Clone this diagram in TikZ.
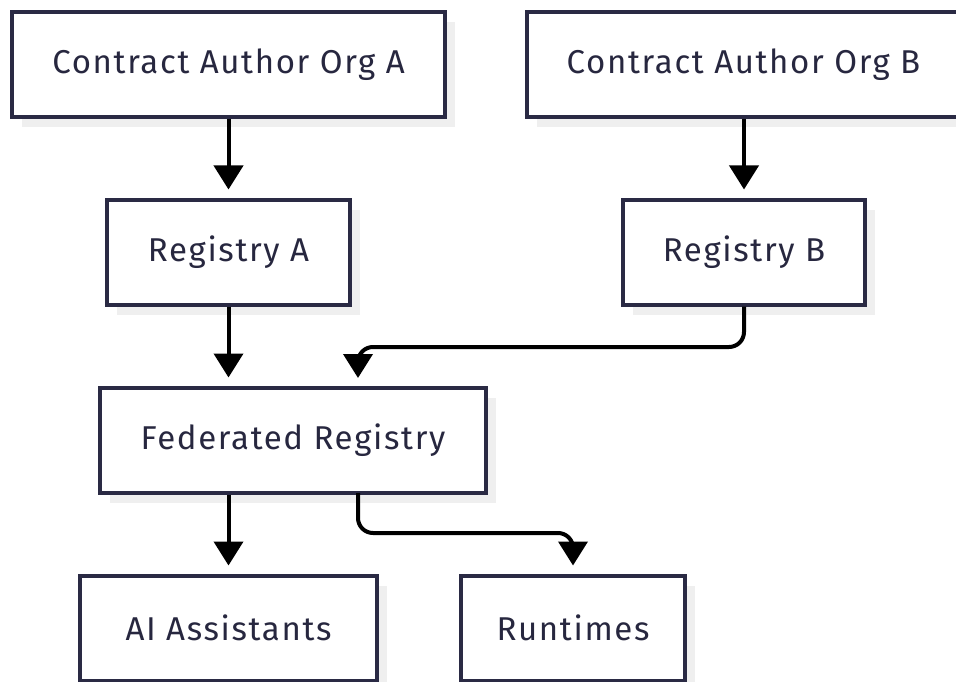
\documentclass[tikz,border=0pt]{standalone}
\usepackage{fontspec}
\setmainfont{Fira Sans}[LetterSpace=5]
\usetikzlibrary{arrows.meta,shadows}
\definecolor{boxline}{HTML}{2A2A44}
\definecolor{boxtext}{HTML}{27273F}
\definecolor{shade}{HTML}{EFEFEF}
\tikzset{
  flowbox/.style={draw=boxline, line width=4pt, fill=white, text=boxtext,
    minimum height=105pt, inner sep=0pt,
    font=\fontsize{33}{39}\selectfont,
    drop shadow={shadow xshift=10pt, shadow yshift=-10pt, fill=shade, opacity=1}},
  flow/.style={line width=4pt, black, rounded corners=15pt,
    -{Triangle[width=29pt,length=24pt]}, shorten >=8pt}
}
\begin{document}
\begin{tikzpicture}[x=1pt,y=-1pt]
  \useasboundingbox (0,0) rectangle (956,682);
  \clip (0,0) rectangle (956,682);
  % boxes
  \node[flowbox, minimum width=433pt] (orgA) at (228.5,65) {Contract Author Org A};
  \node[flowbox, minimum width=433pt] (orgB) at (743.5,65) {Contract Author Org B};
  \node[flowbox, minimum width=243pt] (regA) at (228.5,252) {Registry A};
  \node[flowbox, minimum width=242pt] (regB) at (744,252) {Registry B};
  \node[flowbox, minimum width=386pt] (fed) at (293,440) {Federated Registry};
  \node[flowbox, minimum width=297pt] (ai) at (228.5,628) {AI Assistants};
  \node[flowbox, minimum width=224pt] (rt) at (573,628) {Runtimes};
  % connectors
  \draw[flow] (orgA.south -| regA) -- (regA.north);
  \draw[flow] (orgB.south -| regB) -- (regB.north);
  \draw[flow] (regA.south) -- (regA.south |- fed.north);
  \draw[flow] (regB.south) |- (358,347) -- (358,386) coordinate (fedin);
  \draw[flow] (fed.south -| ai) -- (ai.north);
  \draw[flow] (358,493) coordinate (fedout) |- (rt.north |- 0,533) -- (rt.north);
\end{tikzpicture}
\end{document}
